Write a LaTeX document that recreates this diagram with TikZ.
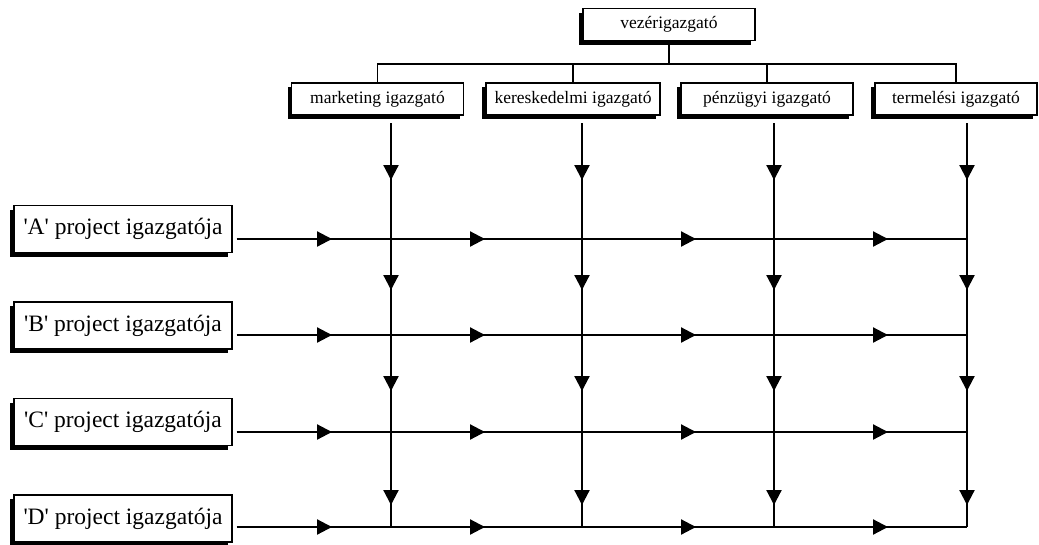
\documentclass[tikz,border=0pt]{standalone}
\usepackage{fontspec}
\setmainfont{Liberation Serif}
\usetikzlibrary{arrows.meta,shadows}
\begin{document}
\begin{tikzpicture}[x=1pt,y=-1pt,
	box/.style={draw,fill=white,line width=1.2pt,inner sep=0pt,
		drop shadow={shadow xshift=-4pt,shadow yshift=-4pt,opacity=1,fill=black}},
	mgr/.style={box,minimum width=172pt,minimum height=32pt,font=\fontsize{17.5}{20}\selectfont},
	prj/.style={box,minimum width=218pt,minimum height=47pt,font=\fontsize{23.5}{27}\selectfont},
	line/.style={line width=1.6pt},
	arr/.style={line width=2.2pt,-{Triangle[length=15pt,width=15pt]}}]
	\useasboundingbox (0,0) rectangle (1039,544);
	\path node[mgr] (ceo) at (669,24.5) {vezérigazgató}
		  node[mgr] (mkt) at (377.5,99) {marketing igazgató}
		  node[mgr,minimum width=174pt] (ker) at (573,99) {kereskedelmi igazgató}
		  node[mgr] (pen) at (767,99) {pénzügyi igazgató}
		  node[mgr,minimum width=162pt] (ter) at (956,99) {termelési igazgató}
		  node[prj] (pa) at (123,229) {\textquotesingle A\textquotesingle{} project igazgatója}
		  node[prj] (pb) at (123,325.5) {\textquotesingle B\textquotesingle{} project igazgatója}
		  node[prj] (pc) at (123,422) {\textquotesingle C\textquotesingle{} project igazgatója}
		  node[prj] (pd) at (123,518.5) {\textquotesingle D\textquotesingle{} project igazgatója};
	\coordinate (bus) at (669,64);
	\draw [line] (ceo.south) -- (bus);
	\draw [line] (mkt.north) |- (bus) -| (ter.north);
	\draw [line] (ker.north) -- (ker.north |- bus);
	\draw [line] (pen.north) -- (pen.north |- bus);
	% columns
	\foreach \n/\x in {1/391,2/582,3/774,4/967} {
		\coordinate (top\n) at (\x,123);
		\coordinate (bot\n) at (\x,527);
		\draw [line] (top\n) -- (bot\n);
		\foreach \y in {180,290,391,505}
			\draw [arr] (\x,\y-32) -- (\x,\y);
	}
	% rows
	\foreach \n/\y in {a/239,b/335,c/432,d/527} {
		\coordinate (r\n) at (p\n.east |- 0,\y);
		\draw [line] ([xshift=4pt]r\n) -- (r\n -| bot4);
		\foreach \x in {332,485,696,888}
			\draw [arr] (\x-35,\y) -- (\x,\y);
	}
\end{tikzpicture}
\end{document}
